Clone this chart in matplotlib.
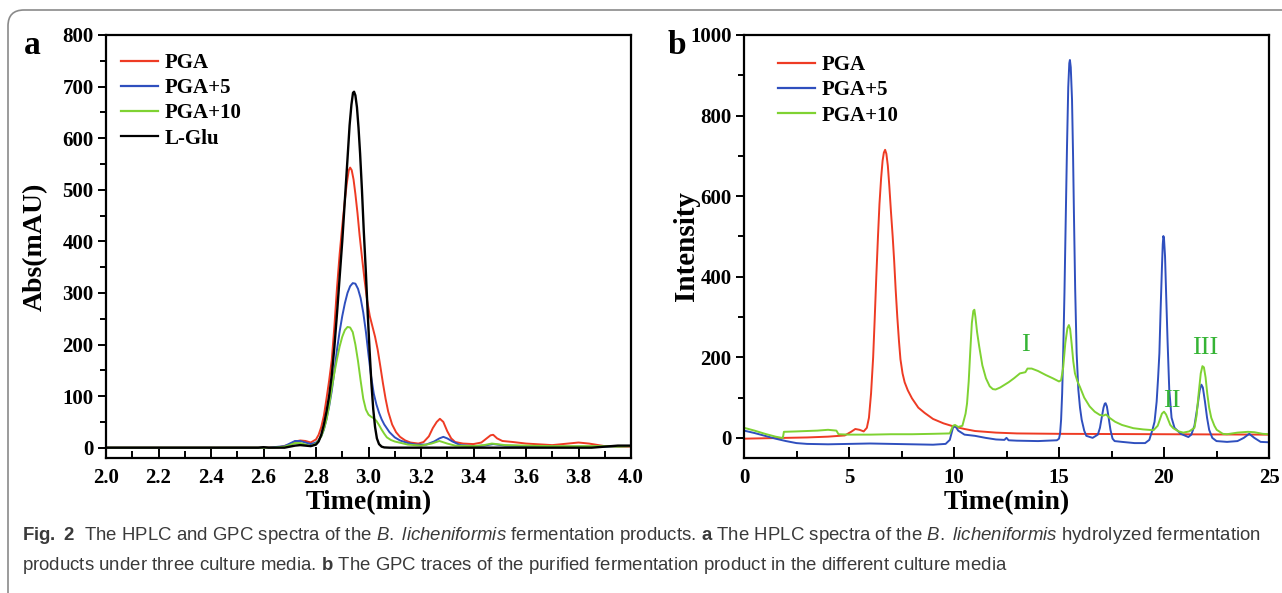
import matplotlib
matplotlib.use("Agg")
import matplotlib.pyplot as plt
from matplotlib.lines import Line2D
from matplotlib.patches import FancyBboxPatch
from matplotlib.transforms import IdentityTransform
from matplotlib.ticker import MultipleLocator, FormatStrFormatter

plt.rcParams['font.family'] = 'Liberation Serif'
plt.rcParams['mathtext.fontset'] = 'custom'
plt.rcParams['mathtext.rm'] = 'Liberation Sans'
plt.rcParams['mathtext.it'] = 'Liberation Sans:italic'
plt.rcParams['mathtext.bf'] = 'Liberation Sans:bold'

RED = '#ee3b24'
BLUE = '#2f4fbe'
GREEN = '#7fd232'
BLACK = '#000000'

# ---- panel a : HPLC (time in min, absorbance in mAU) ----
pga_t = [2.00, 2.60, 2.66, 2.70, 2.72, 2.74, 2.76, 2.78, 2.80, 2.81, 2.82, 2.83, 2.84,
         2.85, 2.86, 2.87, 2.88, 2.89, 2.90, 2.91, 2.918, 2.925, 2.93, 2.936, 2.943,
         2.95, 2.958, 2.966, 2.975, 2.985, 2.995, 3.005, 3.015, 3.025, 3.035, 3.045,
         3.055, 3.065, 3.075, 3.09, 3.105, 3.12, 3.14, 3.16, 3.19, 3.21, 3.23, 3.245,
         3.26, 3.272, 3.285, 3.30, 3.315, 3.33, 3.36, 3.40, 3.43, 3.45, 3.465, 3.475,
         3.49, 3.51, 3.55, 3.60, 3.70, 3.76, 3.80, 3.84, 3.90, 3.95, 4.00]
pga_v = [0, 0, 1, 6, 12, 14, 13, 10, 16, 25, 40, 62, 95,
         130, 170, 235, 310, 375, 430, 480, 515, 538, 543, 538, 520,
         492, 455, 412, 370, 325, 285, 255, 235, 215, 190, 158,
         125, 95, 70, 45, 30, 21, 14, 10, 8, 11, 22, 38,
         50, 56, 50, 32, 18, 11, 8, 7, 10, 18, 24, 25,
         18, 13, 11, 8, 5, 8, 10, 8, 3, 2, 2]

pga5_t = [2.00, 2.62, 2.68, 2.70, 2.72, 2.74, 2.76, 2.78, 2.80, 2.81, 2.82, 2.83, 2.84,
          2.85, 2.86, 2.87, 2.88, 2.89, 2.90, 2.91, 2.92, 2.93, 2.94, 2.95, 2.96,
          2.97, 2.98, 2.99, 3.00, 3.01, 3.02, 3.03, 3.04, 3.05, 3.06, 3.08, 3.10,
          3.12, 3.15, 3.18, 3.22, 3.25, 3.27, 3.285, 3.30, 3.32, 3.35, 3.40, 3.44,
          3.475, 3.52, 3.60, 3.70, 3.80, 3.90, 4.00]
pga5_v = [0, 0, 3, 8, 13, 13, 10, 7, 10, 15, 22, 35, 55,
          80, 110, 148, 190, 225, 255, 280, 300, 313, 319, 318, 308,
          290, 262, 225, 180, 138, 105, 84, 68, 55, 45, 30, 20,
          14, 9, 6, 6, 12, 18, 21, 18, 12, 5, 3, 4,
          7, 4, 3, 2, 2, 2, 3]

pga10_t = [2.00, 2.64, 2.68, 2.70, 2.72, 2.74, 2.76, 2.78, 2.80, 2.81, 2.82, 2.83, 2.84,
           2.85, 2.86, 2.87, 2.88, 2.89, 2.90, 2.91, 2.92, 2.93, 2.94, 2.95, 2.96,
           2.97, 2.98, 2.99, 3.00, 3.01, 3.02, 3.03, 3.04, 3.05, 3.06, 3.07, 3.085,
           3.10, 3.15, 3.20, 3.24, 3.27, 3.30, 3.33, 3.40, 3.44, 3.47, 3.52, 3.60,
           3.70, 3.80, 3.90, 3.95, 4.00]
pga10_v = [0, 0, 2, 5, 9, 9, 6, 3, 8, 14, 22, 36, 55,
           82, 115, 145, 172, 196, 215, 228, 234, 233, 224, 200, 168,
           130, 95, 74, 64, 60, 57, 52, 44, 35, 27, 20, 15,
           12, 6, 4, 8, 13, 8, 4, 3, 5, 8, 5, 4,
           3, 3, 3, 2, 3]

glu_t = [2.00, 2.58, 2.60, 2.62, 2.68, 2.70, 2.72, 2.74, 2.76, 2.78, 2.80, 2.81, 2.82,
         2.83, 2.84, 2.85, 2.86, 2.87, 2.88, 2.89, 2.90, 2.91, 2.92, 2.928, 2.935,
         2.941, 2.945, 2.95, 2.956, 2.962, 2.968, 2.975, 2.982, 2.99, 2.997, 3.004,
         3.011, 3.018, 3.025, 3.032, 3.04, 3.05, 3.06, 3.08, 3.85, 3.90, 3.95, 4.00]
glu_v = [0, 0, 1, 0, 0, 2, 4, 5, 4, 3, 6, 12, 25,
         45, 70, 100, 140, 195, 260, 330, 400, 480, 560, 625, 665,
         688, 690, 683, 660, 620, 570, 500, 420, 340, 260, 190,
         125, 75, 40, 18, 7, 2, 0.5, 0, 0, 2, 4, 4]

# ---- panel b : GPC (time in min, intensity) ----
gpc_pga_t = [0, 1, 2, 3, 4, 4.8, 5.1, 5.3, 5.5, 5.7, 5.85, 5.95, 6.05, 6.15, 6.22,
             6.3, 6.38, 6.45, 6.53, 6.6, 6.66, 6.72, 6.78, 6.85, 6.92, 7.0, 7.08,
             7.15, 7.22, 7.3, 7.38, 7.45, 7.55, 7.65, 7.8, 8.0, 8.3, 8.6, 9.0, 9.5,
             10.0, 10.5, 11.0, 12.0, 13.0, 15.0, 20.0, 25.0]
gpc_pga_v = [-2, -1, 0, 1, 3, 6, 15, 22, 20, 16, 25, 50, 110, 200, 290,
             400, 500, 580, 645, 688, 708, 715, 705, 675, 625, 560, 500,
             440, 370, 300, 240, 195, 160, 138, 118, 98, 75, 62, 47, 36,
             28, 22, 17, 13, 11, 10, 9, 8]

gpc_pga5_t = [0, 0.5, 1.0, 1.5, 2.0, 2.5, 3, 4, 5, 6, 7, 8, 9, 9.6, 9.8, 9.95, 10.05,
              10.2, 10.5, 11, 11.5, 12, 12.4, 12.5, 12.6, 13, 14, 14.9, 15.0, 15.05,
              15.1, 15.15, 15.2, 15.26, 15.32, 15.38, 15.44, 15.49, 15.52, 15.56,
              15.62, 15.67, 15.71, 15.77, 15.84, 15.92, 16.0, 16.08, 16.2, 16.3,
              16.6, 16.85, 16.95, 17.05, 17.12, 17.18, 17.22, 17.28, 17.35, 17.45,
              17.55, 17.65, 18, 18.6, 19.1, 19.3, 19.45, 19.55, 19.65, 19.72, 19.78,
              19.84, 19.9, 19.94, 19.97, 20.0, 20.05, 20.1, 20.17, 20.25, 20.36,
              20.5, 20.8, 21.16, 21.3, 21.45, 21.6, 21.7, 21.78, 21.85, 21.95, 22.05,
              22.15, 22.3, 22.5, 23.0, 23.5, 23.8, 24.06, 24.3, 24.6, 25]
gpc_pga5_v = [18, 12, 5, -2, -8, -13, -15, -16, -15, -14, -15, -16, -17, -15, -5, 25, 30,
              18, 8, 5, 0, -4, -5, 0, -6, -7, -8, -6, -2, 10,
              45, 110, 210, 360, 541, 720, 870, 930, 938, 920,
              840, 700, 560, 370, 210, 120, 75, 45, 18, 5,
              0, 8, 25, 55, 75, 85, 86, 78, 55, 20,
              -2, -8, -10, -13, -13, -5, 20, 40, 90, 150, 210,
              320, 420, 480, 501, 495, 450, 360, 240, 120, 50,
              25, 10, 2, 8, 30, 80, 118, 132, 125, 90, 50,
              20, 0, -8, -10, -8, 0, 10, 0, -10, -11]

gpc_pga10_t = [0, 0.5, 1.0, 1.5, 1.8, 1.85, 1.9, 2.5, 3.0, 3.5, 4.0, 4.4, 4.5, 5, 6, 7,
               8, 9, 9.8, 9.95, 10.05, 10.2, 10.4, 10.55, 10.62, 10.7, 10.78, 10.85,
               10.92, 10.97, 11.02, 11.1, 11.2, 11.35, 11.52, 11.7, 11.85, 11.98,
               12.2, 12.6, 12.86, 13.14, 13.4, 13.5, 13.7, 14.0, 14.37, 14.7, 15.0,
               15.1, 15.2, 15.3, 15.4, 15.47, 15.53, 15.6, 15.68, 15.76, 15.88, 16.0,
               16.2, 16.46, 16.7, 16.94, 17.1, 17.24, 17.4, 17.67, 18.0, 18.54, 19.0,
               19.5, 19.7, 19.8, 19.9, 20.0, 20.1, 20.2, 20.3, 20.44, 20.7, 20.92,
               21.2, 21.45, 21.55, 21.65, 21.75, 21.83, 21.9, 21.98, 22.06, 22.15,
               22.25, 22.4, 22.51, 22.8, 23.0, 23.5, 24.0, 24.3, 24.7, 25]
gpc_pga10_v = [25, 18, 10, 3, 0, 0, 15, 16, 17, 18, 20, 18, 9, 8, 8, 9,
               9, 10, 11, 30, 32, 27, 30, 60, 85, 140, 220, 285,
               315, 318, 300, 262, 227, 180, 148, 128, 121, 120,
               125, 138, 148, 160, 163, 172, 172, 166, 156, 148, 140,
               143, 175, 235, 272, 280, 270, 235, 190, 160, 140, 126,
               100, 78, 65, 57, 55, 58, 50, 40, 32, 24, 21,
               19, 30, 45, 60, 65, 58, 45, 32, 24, 16, 13,
               16, 25, 55, 110, 160, 178, 175, 150, 110, 75,
               50, 30, 20, 10, 9, 13, 15, 14, 10, 9]

peak_labels = ['I', 'II', 'III']
peak_t = [13.38, 20.38, 21.95]
peak_v = [231, 92, 223]

W, H = 1282, 593
fig = plt.figure(figsize=(W / 100, H / 100), dpi=100)

# rounded frame around the figure
frame = FancyBboxPatch((8, -30), W + 40, H - 10 + 30,
                       boxstyle="round,pad=0,rounding_size=16",
                       transform=IdentityTransform(), facecolor='none',
                       edgecolor='#8a8a8a', linewidth=1.2)
fig.add_artist(frame)


def fx(px):
    return px / W


def fy(py):
    return 1 - py / H


ax_top, ax_bot = 35, 458
axa = fig.add_axes([fx(106), fy(ax_bot), fx(631 - 106), (ax_bot - ax_top) / H])
axb = fig.add_axes([fx(744), fy(ax_bot), fx(1269 - 744), (ax_bot - ax_top) / H])

lw = 1.4
kw = dict(solid_joinstyle='round', solid_capstyle='round')
axa.plot(pga_t, pga_v, color=RED, lw=lw, **kw)
axa.plot(pga5_t, pga5_v, color=BLUE, lw=lw, **kw)
axa.plot(pga10_t, pga10_v, color=GREEN, lw=lw, **kw)
axa.plot(glu_t, glu_v, color=BLACK, lw=lw + 0.3, **kw)
axa.set_xlim(2.0, 4.0)
axa.set_ylim(-20, 800)
axa.xaxis.set_major_locator(MultipleLocator(0.2))
axa.xaxis.set_minor_locator(MultipleLocator(0.1))
axa.yaxis.set_major_locator(MultipleLocator(100))
axa.yaxis.set_minor_locator(MultipleLocator(50))
axa.xaxis.set_major_formatter(FormatStrFormatter('%.1f'))

axb.plot(gpc_pga_t, gpc_pga_v, color=RED, lw=lw, **kw)
axb.plot(gpc_pga5_t, gpc_pga5_v, color=BLUE, lw=lw, **kw)
axb.plot(gpc_pga10_t, gpc_pga10_v, color=GREEN, lw=lw, **kw)
axb.set_xlim(0, 25)
axb.set_ylim(-50, 1000)
axb.xaxis.set_major_locator(MultipleLocator(5))
axb.xaxis.set_minor_locator(MultipleLocator(2.5))
axb.yaxis.set_major_locator(MultipleLocator(200))
axb.yaxis.set_minor_locator(MultipleLocator(100))

for lab, t, v in zip(peak_labels, peak_t, peak_v):
    axb.text(t, v, lab, color='#35b435', fontsize=19, fontweight='normal',
             ha='center', va='center')

for ax in (axa, axb):
    for s in ax.spines.values():
        s.set_linewidth(1.6)
    ax.tick_params(axis='x', which='both', direction='in', top=False, width=1.4,
                   labelsize=15, pad=7)
    ax.tick_params(axis='x', which='major', length=8)
    ax.tick_params(axis='x', which='minor', length=5)
    ax.tick_params(axis='y', which='both', direction='out', right=False, width=1.4,
                   labelsize=15, pad=3)
    ax.tick_params(axis='y', which='major', length=6)
    ax.tick_params(axis='y', which='minor', length=4)
    for lbl in ax.get_xticklabels() + ax.get_yticklabels():
        lbl.set_fontweight('bold')
    ax.set_xlabel('Time(min)', fontsize=20, fontweight='bold', labelpad=2)

axa.set_ylabel('Abs(mAU)', fontsize=20, fontweight='bold', labelpad=10)
axb.set_ylabel('Intensity', fontsize=21, fontweight='bold', labelpad=-7)

legend_font = {'family': 'Liberation Serif', 'weight': 'bold', 'size': 15}
leg_a = [Line2D([], [], color=c, lw=1.6) for c in (RED, BLUE, GREEN, BLACK)]
axa.legend(leg_a, ['PGA', 'PGA+5', 'PGA+10', 'L-Glu'], loc='upper left',
           bbox_to_anchor=(0.008, 0.982), frameon=False, borderpad=0,
           prop=legend_font, handlelength=1.8, handletextpad=0.3, labelspacing=0.25)
leg_b = [Line2D([], [], color=c, lw=1.6) for c in (RED, BLUE, GREEN)]
axb.legend(leg_b, ['PGA', 'PGA+5', 'PGA+10'], loc='upper left',
           bbox_to_anchor=(0.044, 0.977), frameon=False, borderpad=0,
           prop=legend_font, handlelength=1.8, handletextpad=0.3, labelspacing=0.25)

fig.text(fx(24), fy(45), 'a', fontsize=24, fontweight='bold', va='center', ha='left')
fig.text(fx(668), fy(45), 'b', fontsize=24, fontweight='bold', va='center', ha='left')

cap1 = (r"$\mathbf{Fig.}$ $\mathbf{2}$  The HPLC and GPC spectra of the"
        r" $\mathit{B.}$ $\mathit{licheniformis}$ fermentation products."
        r" $\mathbf{a}$ The HPLC spectra of the $\mathit{B.}$ $\mathit{licheniformis}$"
        r" hydrolyzed fermentation")
cap2 = (r"products under three culture media. $\mathbf{b}$ The GPC traces of the purified"
        r" fermentation product in the different culture media")
fig.text(fx(22), fy(536), cap1, fontsize=13.4, family='Liberation Sans',
         fontweight='normal', color='#3a3a3a', va='center', ha='left')
fig.text(fx(22), fy(565), cap2, fontsize=13.4, family='Liberation Sans',
         fontweight='normal', color='#3a3a3a', va='center', ha='left')

fig.savefig('out.png', dpi=100)
